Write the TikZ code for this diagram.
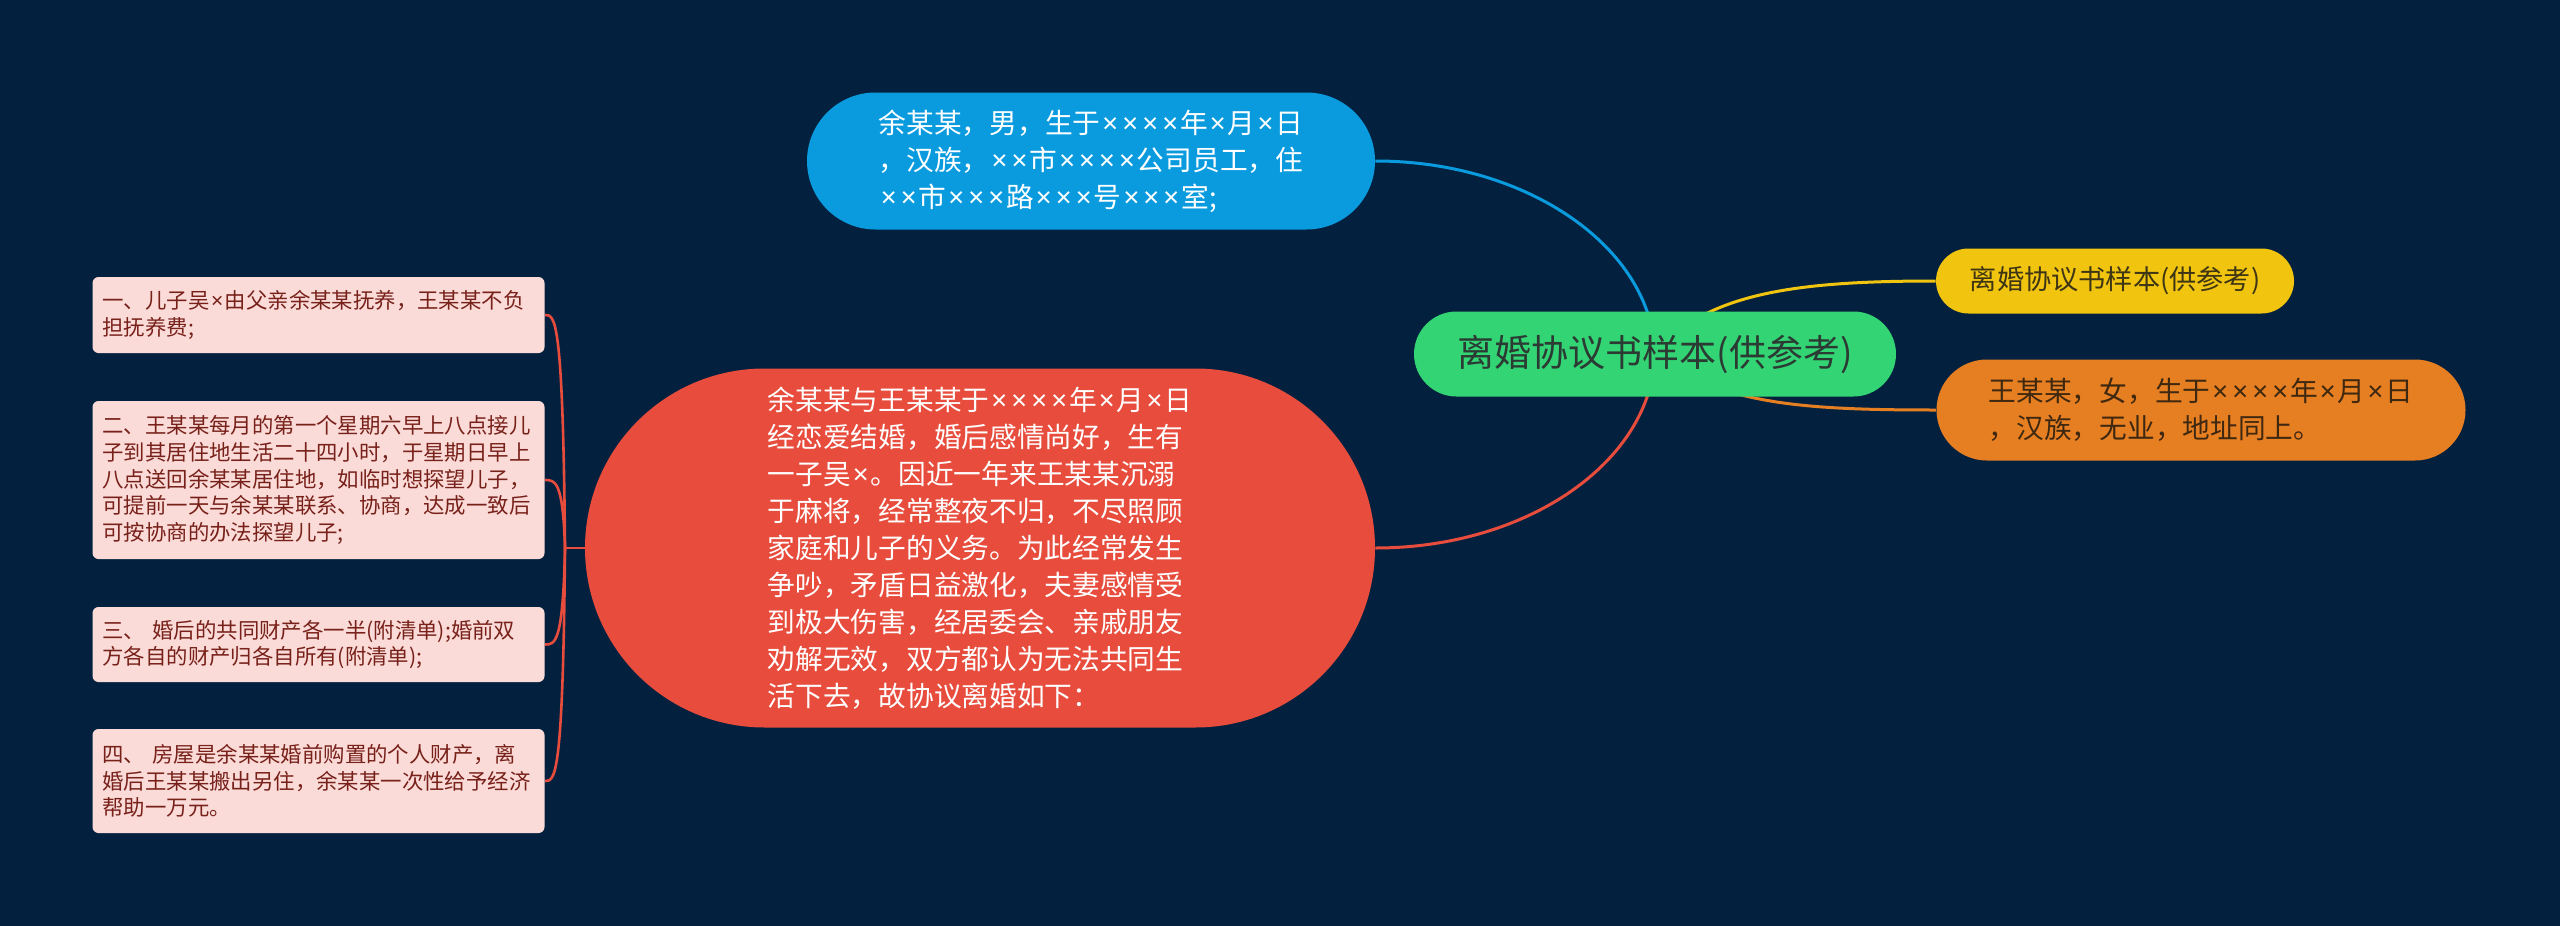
\documentclass[tikz,border=0pt]{standalone}
\usepackage{fontspec}
\setmainfont{Noto Sans CJK SC}
\newfontfamily\latinfont{Noto Sans}
\usepackage{tikz}
\usetikzlibrary{shapes.misc,positioning}

\definecolor{navy}{HTML}{03213F}
\definecolor{topicgreen}{HTML}{33D474}
\definecolor{topictext}{HTML}{2B3A33}
\definecolor{skyblue}{HTML}{0A9BDF}
\definecolor{tomato}{HTML}{E74C3C}
\definecolor{sunyellow}{HTML}{F1C40F}
\definecolor{sunyellowtext}{HTML}{3E3515}
\definecolor{carrot}{HTML}{E67E22}
\definecolor{carrottext}{HTML}{3F2810}
\definecolor{leafpink}{HTML}{FADBD8}
\definecolor{leaftext}{HTML}{78211A}

% narrow multiplication sign, as in the placeholders
\newcommand\tms{\makebox[0.72em]{\latinfont ×}}

\pgfdeclarelayer{bg}
\pgfdeclarelayer{links}
\pgfsetlayers{bg,links,main}

\begin{document}
\begin{tikzpicture}[
    x=0.5pt, y=-0.5pt,
    pill/.style={rounded rectangle, inner sep=0pt, align=left},
    topic/.style={pill, fill=topicgreen, text=topictext, minimum width=241pt, minimum height=42.5pt, font=\fontsize{18.5}{22}\selectfont},
    branch/.style={pill, font=\fontsize{13.85}{18.5}\selectfont},
    leaf/.style={rectangle, rounded corners=3pt, fill=leafpink, text=leaftext, text width=216pt, inner xsep=5pt, inner ysep=0pt, align=left, font=\fontsize{10.7}{13.35}\selectfont},
    link/.style={line width=1.5pt},
    leaflink/.style={line width=1.3pt, tomato}
]
    \useasboundingbox (0,0) rectangle (2560,926);
    \begin{pgfonlayer}{bg}
        \fill[navy] (0,0) rectangle (2560,926);
    \end{pgfonlayer}

    \node[topic] (root) at (1655,354) {离婚协议书样本(供参考)};

    \node[branch, fill=skyblue, text=white, minimum width=284pt, minimum height=68.5pt] (husband) at (1091,161)
        {余某某，男，生于\tms\tms\tms\tms 年\tms 月\tms 日\\，汉族，\tms\tms 市\tms\tms\tms\tms 公司员工，住\\\tms\tms 市\tms\tms\tms 路\tms\tms\tms 号\tms\tms\tms 室;};
    \node[branch, fill=tomato, text=white, minimum width=395pt, minimum height=179.5pt] (story) at (980,548)
        {余某某与王某某于\tms\tms\tms\tms 年\tms 月\tms 日\\经恋爱结婚，婚后感情尚好，生有\\一子吴\tms 。因近一年来王某某沉溺\\于麻将，经常整夜不归，不尽照顾\\家庭和儿子的义务。为此经常发生\\争吵，矛盾日益激化，夫妻感情受\\到极大伤害，经居委会、亲戚朋友\\劝解无效，双方都认为无法共同生\\活下去，故协议离婚如下：};
    \node[branch, fill=sunyellow, text=sunyellowtext, minimum width=179pt, minimum height=32.5pt, font=\fontsize{13.6}{16}\selectfont] (title) at (2115,281)
        {离婚协议书样本(供参考)};
    \node[branch, fill=carrot, text=carrottext, minimum width=264.5pt, minimum height=50.5pt] (wife) at (2201,410)
        {王某某，女，生于\tms\tms\tms\tms 年\tms 月\tms 日\\，汉族，无业，地址同上。};

    % terms of the agreement
    \node[leaf, minimum height=38pt] (l1) at (318.5,315)
        {一、儿子吴\tms 由父亲余某某抚养，王某某不负\\担抚养费;};
    \node[leaf, minimum height=79pt] (l2) at (318.5,480)
        {二、王某某每月的第一个星期六早上八点接儿\\子到其居住地生活二十四小时，于星期日早上\\八点送回余某某居住地，如临时想探望儿子，\\可提前一天与余某某联系、协商，达成一致后\\可按协商的办法探望儿子;};
    \node[leaf, minimum height=37.5pt] (l3) at (318.5,644.5)
        {三、 婚后的共同财产各一半(附清单);婚前双\\方各自的财产归各自所有(附清单);};
    \node[leaf, minimum height=52pt] (l4) at (318.5,781)
        {四、 房屋是余某某婚前购置的个人财产，离\\婚后王某某搬出另住，余某某一次性给予经济\\帮助一万元。};

    \coordinate (hub) at (565,548);

    \begin{pgfonlayer}{links}
        \draw[link, skyblue] (root.center) .. controls (1652,248) and (1528,161) .. (husband.east);
        \draw[link, tomato] (root.center) .. controls (1652,461) and (1528,548) .. (story.east);
        \draw[link, sunyellow] (root.center) .. controls (1705,292) and (1800,281) .. (title.west);
        \draw[link, carrot] (root.center) .. controls (1720,404) and (1800,410) .. (wife.west);
        \draw[leaflink] (story.west) -- (hub);
        \foreach \n in {l1,l2,l3,l4}
            \draw[leaflink] (hub) .. controls ([xshift=-1pt]hub |- \n.east) and ([xshift=5pt]\n.east) .. (\n.east);
    \end{pgfonlayer}
\end{tikzpicture}
\end{document}
